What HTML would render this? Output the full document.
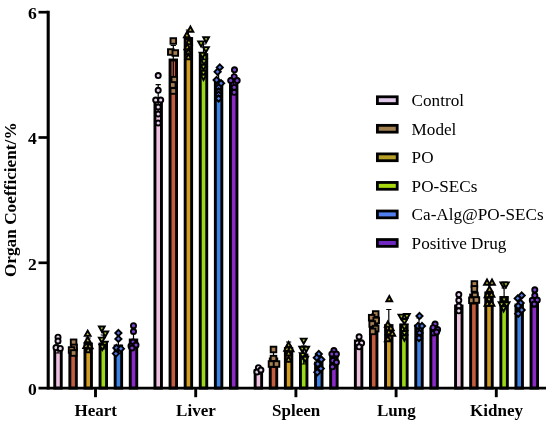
<!DOCTYPE html>
<html><head><meta charset="utf-8"><title>Organ Coefficient</title>
<style>html,body{margin:0;padding:0;background:#fff}svg{display:block}</style></head>
<body>
<svg width="550" height="427" viewBox="0 0 550 427">
<rect width="550" height="427" fill="#fff"/>
<rect x="54.75" y="349.00" width="6.5" height="39.10" fill="#EFC1E0" stroke="#000" stroke-width="2.9"/>
<path d="M58.00 343.00V353.00M55.40 343.00H60.60M55.40 353.00H60.60" stroke="#000" stroke-width="1.2" fill="none"/>
<circle cx="58.00" cy="337.20" r="2.55" fill="#E6CFEC" stroke="#000" stroke-width="1.9" stroke-linejoin="miter"/>
<circle cx="58.00" cy="341.00" r="2.55" fill="#E6CFEC" stroke="#000" stroke-width="1.9" stroke-linejoin="miter"/>
<circle cx="56.00" cy="347.60" r="2.55" fill="#E6CFEC" stroke="#000" stroke-width="1.9" stroke-linejoin="miter"/>
<circle cx="60.30" cy="348.40" r="2.55" fill="#E6CFEC" stroke="#000" stroke-width="1.9" stroke-linejoin="miter"/>
<rect x="69.85" y="349.00" width="6.5" height="39.10" fill="#C25E3E" stroke="#000" stroke-width="2.9"/>
<path d="M73.10 345.00V353.00M70.50 345.00H75.70M70.50 353.00H75.70" stroke="#000" stroke-width="1.2" fill="none"/>
<rect x="70.80" y="339.50" width="5.6" height="5.6" fill="#A67E52" stroke="#000" stroke-width="1.9" stroke-linejoin="miter"/>
<rect x="71.30" y="344.60" width="5.6" height="5.6" fill="#A67E52" stroke="#000" stroke-width="1.9" stroke-linejoin="miter"/>
<rect x="68.80" y="347.20" width="5.6" height="5.6" fill="#A67E52" stroke="#000" stroke-width="1.9" stroke-linejoin="miter"/>
<rect x="70.80" y="350.20" width="5.6" height="5.6" fill="#A67E52" stroke="#000" stroke-width="1.9" stroke-linejoin="miter"/>
<rect x="84.95" y="344.00" width="6.5" height="44.10" fill="#D19C22" stroke="#000" stroke-width="2.9"/>
<path d="M88.20 338.00V350.00M85.60 338.00H90.80M85.60 350.00H90.80" stroke="#000" stroke-width="1.2" fill="none"/>
<path d="M87.70 330.70L90.60 335.90L84.80 335.90Z" fill="#C4AC38" stroke="#000" stroke-width="1.9" stroke-linejoin="miter"/>
<path d="M87.70 337.00L90.60 342.20L84.80 342.20Z" fill="#C4AC38" stroke="#000" stroke-width="1.9" stroke-linejoin="miter"/>
<path d="M86.20 342.80L89.10 348.00L83.30 348.00Z" fill="#C4AC38" stroke="#000" stroke-width="1.9" stroke-linejoin="miter"/>
<path d="M89.70 343.00L92.60 348.20L86.80 348.20Z" fill="#C4AC38" stroke="#000" stroke-width="1.9" stroke-linejoin="miter"/>
<path d="M88.20 347.00L91.10 352.20L85.30 352.20Z" fill="#C4AC38" stroke="#000" stroke-width="1.9" stroke-linejoin="miter"/>
<rect x="100.05" y="344.00" width="6.5" height="44.10" fill="#9AD81A" stroke="#000" stroke-width="2.9"/>
<path d="M103.30 335.00V349.00M100.70 335.00H105.90M100.70 349.00H105.90" stroke="#000" stroke-width="1.2" fill="none"/>
<path d="M101.80 331.70L104.70 326.50L98.90 326.50Z" fill="#A8CC22" stroke="#000" stroke-width="1.9" stroke-linejoin="miter"/>
<path d="M105.30 336.70L108.20 331.50L102.40 331.50Z" fill="#A8CC22" stroke="#000" stroke-width="1.9" stroke-linejoin="miter"/>
<path d="M101.80 342.80L104.70 337.60L98.90 337.60Z" fill="#A8CC22" stroke="#000" stroke-width="1.9" stroke-linejoin="miter"/>
<path d="M104.80 347.00L107.70 341.80L101.90 341.80Z" fill="#A8CC22" stroke="#000" stroke-width="1.9" stroke-linejoin="miter"/>
<path d="M102.30 350.00L105.20 344.80L99.40 344.80Z" fill="#A8CC22" stroke="#000" stroke-width="1.9" stroke-linejoin="miter"/>
<rect x="115.15" y="346.00" width="6.5" height="42.10" fill="#3E84E8" stroke="#000" stroke-width="2.9"/>
<path d="M118.40 339.00V353.00M115.80 339.00H121.00M115.80 353.00H121.00" stroke="#000" stroke-width="1.2" fill="none"/>
<path d="M118.40 329.90L121.50 333.00L118.40 336.10L115.30 333.00Z" fill="#5276E2" stroke="#000" stroke-width="1.9" stroke-linejoin="miter"/>
<path d="M118.40 335.80L121.50 338.90L118.40 342.00L115.30 338.90Z" fill="#5276E2" stroke="#000" stroke-width="1.9" stroke-linejoin="miter"/>
<path d="M116.40 344.80L119.50 347.90L116.40 351.00L113.30 347.90Z" fill="#5276E2" stroke="#000" stroke-width="1.9" stroke-linejoin="miter"/>
<path d="M120.90 345.60L124.00 348.70L120.90 351.80L117.80 348.70Z" fill="#5276E2" stroke="#000" stroke-width="1.9" stroke-linejoin="miter"/>
<path d="M115.90 350.50L119.00 353.60L115.90 356.70L112.80 353.60Z" fill="#5276E2" stroke="#000" stroke-width="1.9" stroke-linejoin="miter"/>
<rect x="130.25" y="340.00" width="6.5" height="48.10" fill="#8A2AC8" stroke="#000" stroke-width="2.9"/>
<path d="M133.50 332.00V348.00M130.90 332.00H136.10M130.90 348.00H136.10" stroke="#000" stroke-width="1.2" fill="none"/>
<circle cx="133.50" cy="325.70" r="2.55" fill="#7E3ECC" stroke="#000" stroke-width="1.9" stroke-linejoin="miter"/>
<circle cx="133.50" cy="331.50" r="2.55" fill="#7E3ECC" stroke="#000" stroke-width="1.9" stroke-linejoin="miter"/>
<circle cx="133.00" cy="342.00" r="2.55" fill="#7E3ECC" stroke="#000" stroke-width="1.9" stroke-linejoin="miter"/>
<circle cx="131.00" cy="346.00" r="2.55" fill="#7E3ECC" stroke="#000" stroke-width="1.9" stroke-linejoin="miter"/>
<circle cx="136.00" cy="345.00" r="2.55" fill="#7E3ECC" stroke="#000" stroke-width="1.9" stroke-linejoin="miter"/>
<circle cx="132.00" cy="348.00" r="2.55" fill="#7E3ECC" stroke="#000" stroke-width="1.9" stroke-linejoin="miter"/>
<rect x="154.95" y="100.00" width="6.5" height="288.10" fill="#EFC1E0" stroke="#000" stroke-width="2.9"/>
<path d="M158.20 84.60V115.50M155.60 84.60H160.80M155.60 115.50H160.80" stroke="#000" stroke-width="1.2" fill="none"/>
<circle cx="158.20" cy="75.60" r="2.55" fill="#E6CFEC" stroke="#000" stroke-width="1.9" stroke-linejoin="miter"/>
<circle cx="158.20" cy="90.30" r="2.55" fill="#E6CFEC" stroke="#000" stroke-width="1.9" stroke-linejoin="miter"/>
<circle cx="155.70" cy="100.00" r="2.55" fill="#E6CFEC" stroke="#000" stroke-width="1.9" stroke-linejoin="miter"/>
<circle cx="160.70" cy="100.00" r="2.55" fill="#E6CFEC" stroke="#000" stroke-width="1.9" stroke-linejoin="miter"/>
<circle cx="158.20" cy="107.00" r="2.55" fill="#E6CFEC" stroke="#000" stroke-width="1.9" stroke-linejoin="miter"/>
<circle cx="158.20" cy="114.00" r="2.55" fill="#E6CFEC" stroke="#000" stroke-width="1.9" stroke-linejoin="miter"/>
<circle cx="158.20" cy="123.00" r="2.55" fill="#E6CFEC" stroke="#000" stroke-width="1.9" stroke-linejoin="miter"/>
<rect x="170.05" y="60.00" width="6.5" height="328.10" fill="#C25E3E" stroke="#000" stroke-width="2.9"/>
<path d="M173.30 45.50V78.00M170.70 45.50H175.90M170.70 78.00H175.90" stroke="#000" stroke-width="1.2" fill="none"/>
<rect x="170.50" y="38.20" width="5.6" height="5.6" fill="#A67E52" stroke="#000" stroke-width="1.9" stroke-linejoin="miter"/>
<rect x="168.00" y="49.20" width="5.6" height="5.6" fill="#A67E52" stroke="#000" stroke-width="1.9" stroke-linejoin="miter"/>
<rect x="172.50" y="50.20" width="5.6" height="5.6" fill="#A67E52" stroke="#000" stroke-width="1.9" stroke-linejoin="miter"/>
<rect x="171.50" y="76.90" width="5.6" height="5.6" fill="#A67E52" stroke="#000" stroke-width="1.9" stroke-linejoin="miter"/>
<rect x="170.00" y="82.20" width="5.6" height="5.6" fill="#A67E52" stroke="#000" stroke-width="1.9" stroke-linejoin="miter"/>
<rect x="170.50" y="88.20" width="5.6" height="5.6" fill="#A67E52" stroke="#000" stroke-width="1.9" stroke-linejoin="miter"/>
<rect x="185.15" y="38.50" width="6.5" height="349.60" fill="#D19C22" stroke="#000" stroke-width="2.9"/>
<path d="M188.40 30.00V47.00M185.80 30.00H191.00M185.80 47.00H191.00" stroke="#000" stroke-width="1.2" fill="none"/>
<path d="M190.40 26.50L193.30 31.70L187.50 31.70Z" fill="#C4AC38" stroke="#000" stroke-width="1.9" stroke-linejoin="miter"/>
<path d="M186.90 32.00L189.80 37.20L184.00 37.20Z" fill="#C4AC38" stroke="#000" stroke-width="1.9" stroke-linejoin="miter"/>
<path d="M188.90 39.00L191.80 44.20L186.00 44.20Z" fill="#C4AC38" stroke="#000" stroke-width="1.9" stroke-linejoin="miter"/>
<path d="M187.40 44.00L190.30 49.20L184.50 49.20Z" fill="#C4AC38" stroke="#000" stroke-width="1.9" stroke-linejoin="miter"/>
<path d="M188.40 49.00L191.30 54.20L185.50 54.20Z" fill="#C4AC38" stroke="#000" stroke-width="1.9" stroke-linejoin="miter"/>
<path d="M188.40 54.00L191.30 59.20L185.50 59.20Z" fill="#C4AC38" stroke="#000" stroke-width="1.9" stroke-linejoin="miter"/>
<rect x="200.25" y="54.60" width="6.5" height="333.50" fill="#9AD81A" stroke="#000" stroke-width="2.9"/>
<path d="M203.50 44.00V66.00M200.90 44.00H206.10M200.90 66.00H206.10" stroke="#000" stroke-width="1.2" fill="none"/>
<path d="M206.10 42.50L209.00 37.30L203.20 37.30Z" fill="#A8CC22" stroke="#000" stroke-width="1.9" stroke-linejoin="miter"/>
<path d="M201.10 46.60L204.00 41.40L198.20 41.40Z" fill="#A8CC22" stroke="#000" stroke-width="1.9" stroke-linejoin="miter"/>
<path d="M206.00 52.30L208.90 47.10L203.10 47.10Z" fill="#A8CC22" stroke="#000" stroke-width="1.9" stroke-linejoin="miter"/>
<path d="M202.50 58.00L205.40 52.80L199.60 52.80Z" fill="#A8CC22" stroke="#000" stroke-width="1.9" stroke-linejoin="miter"/>
<path d="M204.00 64.60L206.90 59.40L201.10 59.40Z" fill="#A8CC22" stroke="#000" stroke-width="1.9" stroke-linejoin="miter"/>
<path d="M203.50 70.00L206.40 64.80L200.60 64.80Z" fill="#A8CC22" stroke="#000" stroke-width="1.9" stroke-linejoin="miter"/>
<path d="M203.50 76.00L206.40 70.80L200.60 70.80Z" fill="#A8CC22" stroke="#000" stroke-width="1.9" stroke-linejoin="miter"/>
<path d="M203.50 80.00L206.40 74.80L200.60 74.80Z" fill="#A8CC22" stroke="#000" stroke-width="1.9" stroke-linejoin="miter"/>
<rect x="215.35" y="82.00" width="6.5" height="306.10" fill="#3E84E8" stroke="#000" stroke-width="2.9"/>
<path d="M218.60 72.00V92.00M216.00 72.00H221.20M216.00 92.00H221.20" stroke="#000" stroke-width="1.2" fill="none"/>
<path d="M219.80 64.30L222.90 67.40L219.80 70.50L216.70 67.40Z" fill="#5276E2" stroke="#000" stroke-width="1.9" stroke-linejoin="miter"/>
<path d="M217.60 68.70L220.70 71.80L217.60 74.90L214.50 71.80Z" fill="#5276E2" stroke="#000" stroke-width="1.9" stroke-linejoin="miter"/>
<path d="M216.60 76.90L219.70 80.00L216.60 83.10L213.50 80.00Z" fill="#5276E2" stroke="#000" stroke-width="1.9" stroke-linejoin="miter"/>
<path d="M221.10 80.20L224.20 83.30L221.10 86.40L218.00 83.30Z" fill="#5276E2" stroke="#000" stroke-width="1.9" stroke-linejoin="miter"/>
<path d="M218.60 84.30L221.70 87.40L218.60 90.50L215.50 87.40Z" fill="#5276E2" stroke="#000" stroke-width="1.9" stroke-linejoin="miter"/>
<path d="M218.60 88.40L221.70 91.50L218.60 94.60L215.50 91.50Z" fill="#5276E2" stroke="#000" stroke-width="1.9" stroke-linejoin="miter"/>
<path d="M218.60 91.70L221.70 94.80L218.60 97.90L215.50 94.80Z" fill="#5276E2" stroke="#000" stroke-width="1.9" stroke-linejoin="miter"/>
<path d="M218.60 95.40L221.70 98.50L218.60 101.60L215.50 98.50Z" fill="#5276E2" stroke="#000" stroke-width="1.9" stroke-linejoin="miter"/>
<rect x="230.45" y="79.00" width="6.5" height="309.10" fill="#8A2AC8" stroke="#000" stroke-width="2.9"/>
<path d="M233.70 71.00V87.00M231.10 71.00H236.30M231.10 87.00H236.30" stroke="#000" stroke-width="1.2" fill="none"/>
<circle cx="234.50" cy="69.80" r="2.55" fill="#7E3ECC" stroke="#000" stroke-width="1.9" stroke-linejoin="miter"/>
<circle cx="234.20" cy="76.70" r="2.55" fill="#7E3ECC" stroke="#000" stroke-width="1.9" stroke-linejoin="miter"/>
<circle cx="230.70" cy="80.50" r="2.55" fill="#7E3ECC" stroke="#000" stroke-width="1.9" stroke-linejoin="miter"/>
<circle cx="237.20" cy="80.50" r="2.55" fill="#7E3ECC" stroke="#000" stroke-width="1.9" stroke-linejoin="miter"/>
<circle cx="234.20" cy="87.40" r="2.55" fill="#7E3ECC" stroke="#000" stroke-width="1.9" stroke-linejoin="miter"/>
<circle cx="234.20" cy="92.30" r="2.55" fill="#7E3ECC" stroke="#000" stroke-width="1.9" stroke-linejoin="miter"/>
<rect x="255.15" y="370.50" width="6.5" height="17.60" fill="#EFC1E0" stroke="#000" stroke-width="2.9"/>
<path d="M258.40 367.00V374.00M255.80 367.00H261.00M255.80 374.00H261.00" stroke="#000" stroke-width="1.2" fill="none"/>
<circle cx="258.40" cy="367.70" r="2.55" fill="#E6CFEC" stroke="#000" stroke-width="1.9" stroke-linejoin="miter"/>
<circle cx="256.90" cy="372.00" r="2.55" fill="#E6CFEC" stroke="#000" stroke-width="1.9" stroke-linejoin="miter"/>
<circle cx="260.90" cy="370.00" r="2.55" fill="#E6CFEC" stroke="#000" stroke-width="1.9" stroke-linejoin="miter"/>
<rect x="270.25" y="359.00" width="6.5" height="29.10" fill="#C25E3E" stroke="#000" stroke-width="2.9"/>
<path d="M273.50 351.00V367.00M270.90 351.00H276.10M270.90 367.00H276.10" stroke="#000" stroke-width="1.2" fill="none"/>
<rect x="270.70" y="346.70" width="5.6" height="5.6" fill="#A67E52" stroke="#000" stroke-width="1.9" stroke-linejoin="miter"/>
<rect x="270.70" y="355.80" width="5.6" height="5.6" fill="#A67E52" stroke="#000" stroke-width="1.9" stroke-linejoin="miter"/>
<rect x="268.70" y="361.20" width="5.6" height="5.6" fill="#A67E52" stroke="#000" stroke-width="1.9" stroke-linejoin="miter"/>
<rect x="273.70" y="361.20" width="5.6" height="5.6" fill="#A67E52" stroke="#000" stroke-width="1.9" stroke-linejoin="miter"/>
<rect x="285.35" y="348.60" width="6.5" height="39.50" fill="#D19C22" stroke="#000" stroke-width="2.9"/>
<path d="M288.60 342.00V355.00M286.00 342.00H291.20M286.00 355.00H291.20" stroke="#000" stroke-width="1.2" fill="none"/>
<path d="M288.60 342.00L291.50 347.20L285.70 347.20Z" fill="#C4AC38" stroke="#000" stroke-width="1.9" stroke-linejoin="miter"/>
<path d="M287.10 345.70L290.00 350.90L284.20 350.90Z" fill="#C4AC38" stroke="#000" stroke-width="1.9" stroke-linejoin="miter"/>
<path d="M290.60 346.00L293.50 351.20L287.70 351.20Z" fill="#C4AC38" stroke="#000" stroke-width="1.9" stroke-linejoin="miter"/>
<path d="M288.60 350.30L291.50 355.50L285.70 355.50Z" fill="#C4AC38" stroke="#000" stroke-width="1.9" stroke-linejoin="miter"/>
<path d="M288.60 356.60L291.50 361.80L285.70 361.80Z" fill="#C4AC38" stroke="#000" stroke-width="1.9" stroke-linejoin="miter"/>
<rect x="300.45" y="355.00" width="6.5" height="33.10" fill="#9AD81A" stroke="#000" stroke-width="2.9"/>
<path d="M303.70 346.00V364.00M301.10 346.00H306.30M301.10 364.00H306.30" stroke="#000" stroke-width="1.2" fill="none"/>
<path d="M303.70 343.80L306.60 338.60L300.80 338.60Z" fill="#A8CC22" stroke="#000" stroke-width="1.9" stroke-linejoin="miter"/>
<path d="M302.20 352.00L305.10 346.80L299.30 346.80Z" fill="#A8CC22" stroke="#000" stroke-width="1.9" stroke-linejoin="miter"/>
<path d="M306.20 352.00L309.10 346.80L303.30 346.80Z" fill="#A8CC22" stroke="#000" stroke-width="1.9" stroke-linejoin="miter"/>
<path d="M302.70 358.30L305.60 353.10L299.80 353.10Z" fill="#A8CC22" stroke="#000" stroke-width="1.9" stroke-linejoin="miter"/>
<path d="M305.20 362.00L308.10 356.80L302.30 356.80Z" fill="#A8CC22" stroke="#000" stroke-width="1.9" stroke-linejoin="miter"/>
<rect x="315.55" y="363.00" width="6.5" height="25.10" fill="#3E84E8" stroke="#000" stroke-width="2.9"/>
<path d="M318.80 355.00V371.00M316.20 355.00H321.40M316.20 371.00H321.40" stroke="#000" stroke-width="1.2" fill="none"/>
<path d="M318.80 350.90L321.90 354.00L318.80 357.10L315.70 354.00Z" fill="#5276E2" stroke="#000" stroke-width="1.9" stroke-linejoin="miter"/>
<path d="M316.80 354.60L319.90 357.70L316.80 360.80L313.70 357.70Z" fill="#5276E2" stroke="#000" stroke-width="1.9" stroke-linejoin="miter"/>
<path d="M321.30 356.40L324.40 359.50L321.30 362.60L318.20 359.50Z" fill="#5276E2" stroke="#000" stroke-width="1.9" stroke-linejoin="miter"/>
<path d="M317.80 360.90L320.90 364.00L317.80 367.10L314.70 364.00Z" fill="#5276E2" stroke="#000" stroke-width="1.9" stroke-linejoin="miter"/>
<path d="M320.80 365.50L323.90 368.60L320.80 371.70L317.70 368.60Z" fill="#5276E2" stroke="#000" stroke-width="1.9" stroke-linejoin="miter"/>
<path d="M317.30 369.20L320.40 372.30L317.30 375.40L314.20 372.30Z" fill="#5276E2" stroke="#000" stroke-width="1.9" stroke-linejoin="miter"/>
<rect x="330.65" y="356.80" width="6.5" height="31.30" fill="#8A2AC8" stroke="#000" stroke-width="2.9"/>
<path d="M333.90 350.00V364.00M331.30 350.00H336.50M331.30 364.00H336.50" stroke="#000" stroke-width="1.2" fill="none"/>
<circle cx="333.90" cy="350.50" r="2.55" fill="#7E3ECC" stroke="#000" stroke-width="1.9" stroke-linejoin="miter"/>
<circle cx="331.90" cy="354.00" r="2.55" fill="#7E3ECC" stroke="#000" stroke-width="1.9" stroke-linejoin="miter"/>
<circle cx="336.40" cy="354.00" r="2.55" fill="#7E3ECC" stroke="#000" stroke-width="1.9" stroke-linejoin="miter"/>
<circle cx="332.90" cy="360.50" r="2.55" fill="#7E3ECC" stroke="#000" stroke-width="1.9" stroke-linejoin="miter"/>
<circle cx="336.40" cy="362.30" r="2.55" fill="#7E3ECC" stroke="#000" stroke-width="1.9" stroke-linejoin="miter"/>
<circle cx="332.40" cy="366.80" r="2.55" fill="#7E3ECC" stroke="#000" stroke-width="1.9" stroke-linejoin="miter"/>
<rect x="355.35" y="341.00" width="6.5" height="47.10" fill="#EFC1E0" stroke="#000" stroke-width="2.9"/>
<path d="M358.60 336.00V346.00M356.00 336.00H361.20M356.00 346.00H361.20" stroke="#000" stroke-width="1.2" fill="none"/>
<circle cx="359.10" cy="336.80" r="2.55" fill="#E6CFEC" stroke="#000" stroke-width="1.9" stroke-linejoin="miter"/>
<circle cx="357.60" cy="343.00" r="2.55" fill="#E6CFEC" stroke="#000" stroke-width="1.9" stroke-linejoin="miter"/>
<circle cx="361.60" cy="343.00" r="2.55" fill="#E6CFEC" stroke="#000" stroke-width="1.9" stroke-linejoin="miter"/>
<circle cx="359.10" cy="346.80" r="2.55" fill="#E6CFEC" stroke="#000" stroke-width="1.9" stroke-linejoin="miter"/>
<rect x="370.45" y="321.00" width="6.5" height="67.10" fill="#C25E3E" stroke="#000" stroke-width="2.9"/>
<path d="M373.70 314.00V328.00M371.10 314.00H376.30M371.10 328.00H376.30" stroke="#000" stroke-width="1.2" fill="none"/>
<rect x="372.90" y="311.20" width="5.6" height="5.6" fill="#A67E52" stroke="#000" stroke-width="1.9" stroke-linejoin="miter"/>
<rect x="368.90" y="314.90" width="5.6" height="5.6" fill="#A67E52" stroke="#000" stroke-width="1.9" stroke-linejoin="miter"/>
<rect x="373.40" y="317.70" width="5.6" height="5.6" fill="#A67E52" stroke="#000" stroke-width="1.9" stroke-linejoin="miter"/>
<rect x="369.40" y="321.20" width="5.6" height="5.6" fill="#A67E52" stroke="#000" stroke-width="1.9" stroke-linejoin="miter"/>
<rect x="372.90" y="325.80" width="5.6" height="5.6" fill="#A67E52" stroke="#000" stroke-width="1.9" stroke-linejoin="miter"/>
<rect x="369.90" y="328.60" width="5.6" height="5.6" fill="#A67E52" stroke="#000" stroke-width="1.9" stroke-linejoin="miter"/>
<rect x="385.55" y="325.60" width="6.5" height="62.50" fill="#D19C22" stroke="#000" stroke-width="2.9"/>
<path d="M388.80 309.50V340.00M386.20 309.50H391.40M386.20 340.00H391.40" stroke="#000" stroke-width="1.2" fill="none"/>
<path d="M389.30 296.00L392.20 301.20L386.40 301.20Z" fill="#C4AC38" stroke="#000" stroke-width="1.9" stroke-linejoin="miter"/>
<path d="M387.80 321.50L390.70 326.70L384.90 326.70Z" fill="#C4AC38" stroke="#000" stroke-width="1.9" stroke-linejoin="miter"/>
<path d="M390.80 325.20L393.70 330.40L387.90 330.40Z" fill="#C4AC38" stroke="#000" stroke-width="1.9" stroke-linejoin="miter"/>
<path d="M388.80 329.00L391.70 334.20L385.90 334.20Z" fill="#C4AC38" stroke="#000" stroke-width="1.9" stroke-linejoin="miter"/>
<path d="M392.30 330.50L395.20 335.70L389.40 335.70Z" fill="#C4AC38" stroke="#000" stroke-width="1.9" stroke-linejoin="miter"/>
<path d="M387.80 336.00L390.70 341.20L384.90 341.20Z" fill="#C4AC38" stroke="#000" stroke-width="1.9" stroke-linejoin="miter"/>
<rect x="400.65" y="325.00" width="6.5" height="63.10" fill="#9AD81A" stroke="#000" stroke-width="2.9"/>
<path d="M403.90 318.00V332.00M401.30 318.00H406.50M401.30 332.00H406.50" stroke="#000" stroke-width="1.2" fill="none"/>
<path d="M401.40 319.80L404.30 314.60L398.50 314.60Z" fill="#A8CC22" stroke="#000" stroke-width="1.9" stroke-linejoin="miter"/>
<path d="M406.90 319.20L409.80 314.00L404.00 314.00Z" fill="#A8CC22" stroke="#000" stroke-width="1.9" stroke-linejoin="miter"/>
<path d="M404.40 324.20L407.30 319.00L401.50 319.00Z" fill="#A8CC22" stroke="#000" stroke-width="1.9" stroke-linejoin="miter"/>
<path d="M404.40 329.80L407.30 324.60L401.50 324.60Z" fill="#A8CC22" stroke="#000" stroke-width="1.9" stroke-linejoin="miter"/>
<path d="M404.40 336.20L407.30 331.00L401.50 331.00Z" fill="#A8CC22" stroke="#000" stroke-width="1.9" stroke-linejoin="miter"/>
<path d="M404.40 340.70L407.30 335.50L401.50 335.50Z" fill="#A8CC22" stroke="#000" stroke-width="1.9" stroke-linejoin="miter"/>
<rect x="415.75" y="326.00" width="6.5" height="62.10" fill="#3E84E8" stroke="#000" stroke-width="2.9"/>
<path d="M419.00 318.00V334.00M416.40 318.00H421.60M416.40 334.00H421.60" stroke="#000" stroke-width="1.2" fill="none"/>
<path d="M419.50 312.90L422.60 316.00L419.50 319.10L416.40 316.00Z" fill="#5276E2" stroke="#000" stroke-width="1.9" stroke-linejoin="miter"/>
<path d="M418.00 322.90L421.10 326.00L418.00 329.10L414.90 326.00Z" fill="#5276E2" stroke="#000" stroke-width="1.9" stroke-linejoin="miter"/>
<path d="M422.00 322.90L425.10 326.00L422.00 329.10L418.90 326.00Z" fill="#5276E2" stroke="#000" stroke-width="1.9" stroke-linejoin="miter"/>
<path d="M419.50 329.90L422.60 333.00L419.50 336.10L416.40 333.00Z" fill="#5276E2" stroke="#000" stroke-width="1.9" stroke-linejoin="miter"/>
<path d="M419.00 334.90L422.10 338.00L419.00 341.10L415.90 338.00Z" fill="#5276E2" stroke="#000" stroke-width="1.9" stroke-linejoin="miter"/>
<rect x="430.85" y="329.00" width="6.5" height="59.10" fill="#8A2AC8" stroke="#000" stroke-width="2.9"/>
<path d="M434.10 324.00V334.00M431.50 324.00H436.70M431.50 334.00H436.70" stroke="#000" stroke-width="1.2" fill="none"/>
<circle cx="435.10" cy="324.00" r="2.55" fill="#7E3ECC" stroke="#000" stroke-width="1.9" stroke-linejoin="miter"/>
<circle cx="433.10" cy="327.70" r="2.55" fill="#7E3ECC" stroke="#000" stroke-width="1.9" stroke-linejoin="miter"/>
<circle cx="437.60" cy="329.50" r="2.55" fill="#7E3ECC" stroke="#000" stroke-width="1.9" stroke-linejoin="miter"/>
<circle cx="433.60" cy="333.00" r="2.55" fill="#7E3ECC" stroke="#000" stroke-width="1.9" stroke-linejoin="miter"/>
<circle cx="436.60" cy="332.00" r="2.55" fill="#7E3ECC" stroke="#000" stroke-width="1.9" stroke-linejoin="miter"/>
<rect x="455.55" y="306.00" width="6.5" height="82.10" fill="#EFC1E0" stroke="#000" stroke-width="2.9"/>
<path d="M458.80 298.00V311.00M456.20 298.00H461.40M456.20 311.00H461.40" stroke="#000" stroke-width="1.2" fill="none"/>
<circle cx="458.80" cy="294.60" r="2.55" fill="#E6CFEC" stroke="#000" stroke-width="1.9" stroke-linejoin="miter"/>
<circle cx="458.80" cy="300.30" r="2.55" fill="#E6CFEC" stroke="#000" stroke-width="1.9" stroke-linejoin="miter"/>
<circle cx="458.80" cy="306.00" r="2.55" fill="#E6CFEC" stroke="#000" stroke-width="1.9" stroke-linejoin="miter"/>
<circle cx="458.80" cy="310.80" r="2.55" fill="#E6CFEC" stroke="#000" stroke-width="1.9" stroke-linejoin="miter"/>
<rect x="470.65" y="295.00" width="6.5" height="93.10" fill="#C25E3E" stroke="#000" stroke-width="2.9"/>
<path d="M473.90 286.00V304.00M471.30 286.00H476.50M471.30 304.00H476.50" stroke="#000" stroke-width="1.2" fill="none"/>
<rect x="471.60" y="281.20" width="5.6" height="5.6" fill="#A67E52" stroke="#000" stroke-width="1.9" stroke-linejoin="miter"/>
<rect x="471.60" y="286.10" width="5.6" height="5.6" fill="#A67E52" stroke="#000" stroke-width="1.9" stroke-linejoin="miter"/>
<rect x="472.10" y="292.70" width="5.6" height="5.6" fill="#A67E52" stroke="#000" stroke-width="1.9" stroke-linejoin="miter"/>
<rect x="469.10" y="297.50" width="5.6" height="5.6" fill="#A67E52" stroke="#000" stroke-width="1.9" stroke-linejoin="miter"/>
<rect x="473.60" y="297.20" width="5.6" height="5.6" fill="#A67E52" stroke="#000" stroke-width="1.9" stroke-linejoin="miter"/>
<rect x="485.75" y="293.00" width="6.5" height="95.10" fill="#D19C22" stroke="#000" stroke-width="2.9"/>
<path d="M489.00 284.00V302.00M486.40 284.00H491.60M486.40 302.00H491.60" stroke="#000" stroke-width="1.2" fill="none"/>
<path d="M487.00 279.50L489.90 284.70L484.10 284.70Z" fill="#C4AC38" stroke="#000" stroke-width="1.9" stroke-linejoin="miter"/>
<path d="M492.00 279.50L494.90 284.70L489.10 284.70Z" fill="#C4AC38" stroke="#000" stroke-width="1.9" stroke-linejoin="miter"/>
<path d="M489.50 286.40L492.40 291.60L486.60 291.60Z" fill="#C4AC38" stroke="#000" stroke-width="1.9" stroke-linejoin="miter"/>
<path d="M487.50 292.10L490.40 297.30L484.60 297.30Z" fill="#C4AC38" stroke="#000" stroke-width="1.9" stroke-linejoin="miter"/>
<path d="M491.50 291.50L494.40 296.70L488.60 296.70Z" fill="#C4AC38" stroke="#000" stroke-width="1.9" stroke-linejoin="miter"/>
<path d="M489.00 296.00L491.90 301.20L486.10 301.20Z" fill="#C4AC38" stroke="#000" stroke-width="1.9" stroke-linejoin="miter"/>
<path d="M487.50 300.50L490.40 305.70L484.60 305.70Z" fill="#C4AC38" stroke="#000" stroke-width="1.9" stroke-linejoin="miter"/>
<path d="M491.50 300.50L494.40 305.70L488.60 305.70Z" fill="#C4AC38" stroke="#000" stroke-width="1.9" stroke-linejoin="miter"/>
<rect x="500.85" y="297.50" width="6.5" height="90.60" fill="#9AD81A" stroke="#000" stroke-width="2.9"/>
<path d="M504.10 288.00V305.00M501.50 288.00H506.70M501.50 305.00H506.70" stroke="#000" stroke-width="1.2" fill="none"/>
<path d="M503.30 287.60L506.20 282.40L500.40 282.40Z" fill="#A8CC22" stroke="#000" stroke-width="1.9" stroke-linejoin="miter"/>
<path d="M505.90 287.60L508.80 282.40L503.00 282.40Z" fill="#A8CC22" stroke="#000" stroke-width="1.9" stroke-linejoin="miter"/>
<path d="M504.10 302.80L507.00 297.60L501.20 297.60Z" fill="#A8CC22" stroke="#000" stroke-width="1.9" stroke-linejoin="miter"/>
<path d="M501.60 307.50L504.50 302.30L498.70 302.30Z" fill="#A8CC22" stroke="#000" stroke-width="1.9" stroke-linejoin="miter"/>
<path d="M506.60 307.50L509.50 302.30L503.70 302.30Z" fill="#A8CC22" stroke="#000" stroke-width="1.9" stroke-linejoin="miter"/>
<path d="M503.60 311.50L506.50 306.30L500.70 306.30Z" fill="#A8CC22" stroke="#000" stroke-width="1.9" stroke-linejoin="miter"/>
<rect x="515.95" y="305.00" width="6.5" height="83.10" fill="#3E84E8" stroke="#000" stroke-width="2.9"/>
<path d="M519.20 297.00V313.00M516.60 297.00H521.80M516.60 313.00H521.80" stroke="#000" stroke-width="1.2" fill="none"/>
<path d="M521.70 292.40L524.80 295.50L521.70 298.60L518.60 295.50Z" fill="#5276E2" stroke="#000" stroke-width="1.9" stroke-linejoin="miter"/>
<path d="M517.70 295.30L520.80 298.40L517.70 301.50L514.60 298.40Z" fill="#5276E2" stroke="#000" stroke-width="1.9" stroke-linejoin="miter"/>
<path d="M520.70 299.90L523.80 303.00L520.70 306.10L517.60 303.00Z" fill="#5276E2" stroke="#000" stroke-width="1.9" stroke-linejoin="miter"/>
<path d="M518.20 302.90L521.30 306.00L518.20 309.10L515.10 306.00Z" fill="#5276E2" stroke="#000" stroke-width="1.9" stroke-linejoin="miter"/>
<path d="M521.70 306.90L524.80 310.00L521.70 313.10L518.60 310.00Z" fill="#5276E2" stroke="#000" stroke-width="1.9" stroke-linejoin="miter"/>
<path d="M518.20 310.60L521.30 313.70L518.20 316.80L515.10 313.70Z" fill="#5276E2" stroke="#000" stroke-width="1.9" stroke-linejoin="miter"/>
<rect x="531.05" y="299.40" width="6.5" height="88.70" fill="#8A2AC8" stroke="#000" stroke-width="2.9"/>
<path d="M534.30 292.00V307.00M531.70 292.00H536.90M531.70 307.00H536.90" stroke="#000" stroke-width="1.2" fill="none"/>
<circle cx="534.80" cy="289.80" r="2.55" fill="#7E3ECC" stroke="#000" stroke-width="1.9" stroke-linejoin="miter"/>
<circle cx="534.80" cy="295.50" r="2.55" fill="#7E3ECC" stroke="#000" stroke-width="1.9" stroke-linejoin="miter"/>
<circle cx="532.30" cy="300.30" r="2.55" fill="#7E3ECC" stroke="#000" stroke-width="1.9" stroke-linejoin="miter"/>
<circle cx="537.30" cy="300.00" r="2.55" fill="#7E3ECC" stroke="#000" stroke-width="1.9" stroke-linejoin="miter"/>
<circle cx="534.30" cy="304.00" r="2.55" fill="#7E3ECC" stroke="#000" stroke-width="1.9" stroke-linejoin="miter"/>
<path d="M48.20 10.75V389.55" stroke="#000" stroke-width="3.1" fill="none"/>
<path d="M38.5 388.10H546" stroke="#000" stroke-width="2.9" fill="none"/>
<path d="M38.5 262.80H48.20" stroke="#000" stroke-width="2.7" fill="none"/>
<path d="M38.5 137.50H48.20" stroke="#000" stroke-width="2.7" fill="none"/>
<path d="M38.5 12.20H48.20" stroke="#000" stroke-width="2.7" fill="none"/>
<path d="M95.50 388.10V397.2" stroke="#000" stroke-width="2.9" fill="none"/>
<path d="M195.70 388.10V397.2" stroke="#000" stroke-width="2.9" fill="none"/>
<path d="M295.90 388.10V397.2" stroke="#000" stroke-width="2.9" fill="none"/>
<path d="M396.10 388.10V397.2" stroke="#000" stroke-width="2.9" fill="none"/>
<path d="M496.30 388.10V397.2" stroke="#000" stroke-width="2.9" fill="none"/>
<text x="36.8" y="394.90" text-anchor="end" font-family="Liberation Serif, serif" font-weight="bold" font-size="17.6">0</text>
<text x="36.8" y="269.60" text-anchor="end" font-family="Liberation Serif, serif" font-weight="bold" font-size="17.6">2</text>
<text x="36.8" y="144.30" text-anchor="end" font-family="Liberation Serif, serif" font-weight="bold" font-size="17.6">4</text>
<text x="36.8" y="19.00" text-anchor="end" font-family="Liberation Serif, serif" font-weight="bold" font-size="17.6">6</text>
<text x="95.75" y="415.6" text-anchor="middle" font-family="Liberation Serif, serif" font-weight="bold" font-size="17">Heart</text>
<text x="195.95" y="415.6" text-anchor="middle" font-family="Liberation Serif, serif" font-weight="bold" font-size="17">Liver</text>
<text x="296.15" y="415.6" text-anchor="middle" font-family="Liberation Serif, serif" font-weight="bold" font-size="17">Spleen</text>
<text x="396.35" y="415.6" text-anchor="middle" font-family="Liberation Serif, serif" font-weight="bold" font-size="17">Lung</text>
<text x="496.55" y="415.6" text-anchor="middle" font-family="Liberation Serif, serif" font-weight="bold" font-size="17">Kidney</text>
<text transform="translate(16 199.7) rotate(-90)" text-anchor="middle" font-family="Liberation Serif, serif" font-weight="bold" font-size="17.25">Organ Coefficient/%</text>
<rect x="377.4" y="96.80" width="19.8" height="6.8" fill="#E0C8E8" stroke="#000" stroke-width="2.8"/>
<text x="411.6" y="106.00" font-family="Liberation Serif, serif" font-size="17.15">Control</text>
<rect x="377.4" y="125.35" width="19.8" height="6.8" fill="#A08050" stroke="#000" stroke-width="2.8"/>
<text x="411.6" y="134.55" font-family="Liberation Serif, serif" font-size="17.15">Model</text>
<rect x="377.4" y="153.90" width="19.8" height="6.8" fill="#B8A028" stroke="#000" stroke-width="2.8"/>
<text x="411.6" y="163.10" font-family="Liberation Serif, serif" font-size="17.15">PO</text>
<rect x="377.4" y="182.45" width="19.8" height="6.8" fill="#A8D810" stroke="#000" stroke-width="2.8"/>
<text x="411.6" y="191.65" font-family="Liberation Serif, serif" font-size="17.15">PO-SECs</text>
<rect x="377.4" y="211.00" width="19.8" height="6.8" fill="#5080F0" stroke="#000" stroke-width="2.8"/>
<text x="411.6" y="220.20" font-family="Liberation Serif, serif" font-size="17.15">Ca-Alg@PO-SECs</text>
<rect x="377.4" y="239.55" width="19.8" height="6.8" fill="#7028C0" stroke="#000" stroke-width="2.8"/>
<text x="411.6" y="248.75" font-family="Liberation Serif, serif" font-size="17.15">Positive Drug</text>
</svg>
</body></html>
